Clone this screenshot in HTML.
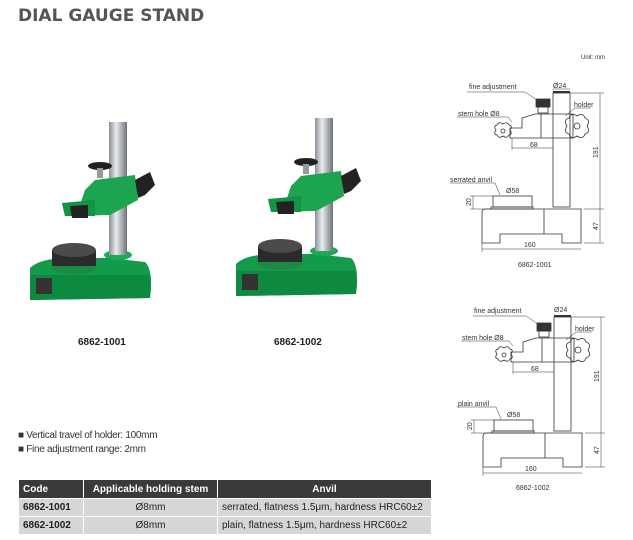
<!DOCTYPE html>
<html><head><meta charset="utf-8"><style>
body{margin:0;width:633px;height:540px;background:#fff;position:relative;overflow:hidden;font-family:"Liberation Sans",sans-serif;}
.t{position:absolute;white-space:nowrap}
table{position:absolute;left:18px;top:479px;border-collapse:collapse;font-size:10px;width:414px}
td,th{border:1px solid #fff;padding:0 4px;height:17px}
th{background:#3a3a3a;color:#fff;font-weight:bold;height:18px}
td{background:#d6d6d6;color:#222}
</style></head><body>
<div class="t" style="left:18px;top:6px;font-size:17px;font-weight:bold;color:#555;font-family:'DejaVu Sans',sans-serif;">DIAL GAUGE STAND</div>
<div class="t" style="left:78px;top:337px;font-size:10px;font-weight:bold;color:#222">6862-1001</div>
<div class="t" style="left:274px;top:337px;font-size:10px;font-weight:bold;color:#222">6862-1002</div>
<div class="t" style="left:18px;top:430px;font-size:10px;color:#333;letter-spacing:-0.3px">■ Vertical travel of holder: 100mm</div>
<div class="t" style="left:18px;top:444px;font-size:10px;color:#333;letter-spacing:-0.3px">■ Fine adjustment range: 2mm</div>
<table>
<tr><th style="text-align:left;width:56px">Code</th><th style="width:125px">Applicable holding stem</th><th>Anvil</th></tr>
<tr><td style="font-weight:bold">6862-1001</td><td style="text-align:center">Ø8mm</td><td>serrated, flatness 1.5μm, hardness HRC60±2</td></tr>
<tr><td style="font-weight:bold">6862-1002</td><td style="text-align:center">Ø8mm</td><td>plain, flatness 1.5μm, hardness HRC60±2</td></tr>
</table>
<svg width="633" height="540" style="position:absolute;left:0;top:0" font-family="Liberation Sans, sans-serif">
<defs>
<linearGradient id="col" x1="0" x2="1"><stop offset="0" stop-color="#8a9096"/><stop offset=".4" stop-color="#e8ecef"/><stop offset="1" stop-color="#6c7277"/></linearGradient>
<g id="photo">
<path d="M30 268 Q40 258 70 258 L110 258 L145 262 Q152 268 151 290 L150 298 L30 300 Z" fill="#139a4a"/>
<path d="M30 275 L150 275 L150 298 L30 300Z" fill="#0d8a40"/>
<rect x="36" y="278" width="16" height="16" fill="#333"/>
<ellipse cx="74" cy="268" rx="22" ry="6" fill="#1a8a45"/>
<rect x="52" y="250" width="44" height="16" fill="#2b2b2b"/>
<ellipse cx="74" cy="250" rx="22" ry="7" fill="#4b4b4b"/>
<ellipse cx="118" cy="255" rx="14" ry="5" fill="#1eaa55"/>
<rect x="109" y="122" width="18" height="133" fill="url(#col)"/>
<path d="M80 205 L85 190 L95 180 L135 175 L138 200 L110 215 L65 216 L62 203Z" fill="#1ca451"/>
<path d="M62 203 L95 200 L95 216 L65 216Z" fill="#139344"/>
<ellipse cx="100" cy="166" rx="12" ry="4" fill="#222"/>
<rect x="97" y="168" width="6" height="10" fill="#999"/>
<path d="M135 180 L150 172 L155 185 L145 195 L138 198Z" fill="#222"/>
<path d="M70 206 L88 205 L88 218 L72 218Z" fill="#222"/>
</g>
</defs>
<use href="#photo"/>
<use href="#photo" transform="translate(206,-4)"/>
<text x="581" y="59" font-size="6" fill="#333">Unit: mm</text>
<g id="d1" fill="none" stroke="#333" stroke-width="0.8" font-size="7">
<rect x="553" y="93" width="17" height="114"/>
<path d="M482 212 Q482 209 486 209 L581 209 L581 243 L562 243 L562 234 L500 234 L500 243 L482 243Z"/>
<line x1="544" y1="209" x2="544" y2="234"/>
<rect x="491" y="207" width="42" height="2"/>
<rect x="493" y="196" width="39" height="11"/>
<path d="M522 118 L535 114 L573 114 L573 138 L510 138 L510 128 L522 128Z"/>
<line x1="541" y1="114" x2="541" y2="138"/>
<rect x="536" y="99" width="14" height="8" fill="#333"/>
<rect x="538" y="107" width="10" height="6"/>
<path d="M577 116 q6 -4 8 2 q6 2 2 8 q4 6 -2 8 q-2 6 -8 2 q-6 4 -8 -2 q-6 -2 -2 -8 q-4 -6 2 -8 q2 -6 8 -2Z"/>
<circle cx="577" cy="126" r="3"/>
<path d="M503 124 q4 -3 6 1 q4 1 1 5 q3 4 -1 5 q-2 4 -6 1 q-4 3 -6 -1 q-4 -1 -1 -5 q-3 -4 1 -5 q2 -4 6 -1Z"/>
<circle cx="503" cy="131" r="2"/>
<line x1="553" y1="92" x2="570" y2="92" stroke-width="2"/>
<line x1="553" y1="89" x2="570" y2="89" stroke-width="0.5"/>
<line x1="570" y1="93" x2="604" y2="93" stroke-width="0.5"/><line x1="600" y1="93" x2="600" y2="243" stroke-width="0.5"/>
<line x1="584" y1="209" x2="604" y2="209" stroke-width="0.5"/><line x1="584" y1="243" x2="604" y2="243" stroke-width="0.5"/>
<line x1="482" y1="243" x2="482" y2="252" stroke-width="0.5"/><line x1="482" y1="249" x2="581" y2="249" stroke-width="0.5"/>
<line x1="512" y1="148" x2="553" y2="148" stroke-width="0.5"/><line x1="512" y1="138" x2="512" y2="150" stroke-width="0.5"/>
<line x1="470" y1="196" x2="493" y2="196" stroke-width="0.5"/><line x1="470" y1="209" x2="493" y2="209" stroke-width="0.5"/><line x1="473" y1="196" x2="473" y2="209" stroke-width="0.5"/>
<path d="M467 92 L525 92 L537 100 M457 117 L508 117 L512 122 M591 108 L575 108 L565 116 M450 183 L495 183 L500 195" stroke-width="0.5"/>
<g fill="#333" stroke="none">
<text x="469" y="89">fine adjustment</text><text x="553" y="88">Ø24</text><text x="574" y="107">holder</text>
<text x="458" y="116">stem hole Ø8</text><text x="530" y="147">68</text>
<text x="450" y="182">serrated anvil</text><text x="506" y="193">Ø58</text>
<text x="524" y="247">160</text><text x="518" y="267" font-size="7">6862-1001</text>
<text transform="translate(598,158) rotate(-90)">191</text><text transform="translate(598,230) rotate(-90)">47</text><text transform="translate(471,206) rotate(-90)">20</text>
</g>
</g>
<g fill="none" stroke="#333" stroke-width="0.8" font-size="7" transform="translate(1,224)">
<rect x="553" y="93" width="17" height="114"/>
<path d="M482 212 Q482 209 486 209 L581 209 L581 243 L562 243 L562 234 L500 234 L500 243 L482 243Z"/>
<line x1="544" y1="209" x2="544" y2="234"/>
<rect x="491" y="207" width="42" height="2"/>
<rect x="493" y="196" width="39" height="11"/>
<path d="M522 118 L535 114 L573 114 L573 138 L510 138 L510 128 L522 128Z"/>
<line x1="541" y1="114" x2="541" y2="138"/>
<rect x="536" y="99" width="14" height="8" fill="#333"/>
<rect x="538" y="107" width="10" height="6"/>
<path d="M577 116 q6 -4 8 2 q6 2 2 8 q4 6 -2 8 q-2 6 -8 2 q-6 4 -8 -2 q-6 -2 -2 -8 q-4 -6 2 -8 q2 -6 8 -2Z"/>
<circle cx="577" cy="126" r="3"/>
<path d="M503 124 q4 -3 6 1 q4 1 1 5 q3 4 -1 5 q-2 4 -6 1 q-4 3 -6 -1 q-4 -1 -1 -5 q-3 -4 1 -5 q2 -4 6 -1Z"/>
<circle cx="503" cy="131" r="2"/>
<line x1="553" y1="92" x2="570" y2="92" stroke-width="2"/>
<line x1="570" y1="93" x2="604" y2="93" stroke-width="0.5"/><line x1="600" y1="93" x2="600" y2="243" stroke-width="0.5"/>
<line x1="584" y1="209" x2="604" y2="209" stroke-width="0.5"/><line x1="584" y1="243" x2="604" y2="243" stroke-width="0.5"/>
<line x1="482" y1="243" x2="482" y2="252" stroke-width="0.5"/><line x1="482" y1="249" x2="581" y2="249" stroke-width="0.5"/>
<line x1="512" y1="148" x2="553" y2="148" stroke-width="0.5"/><line x1="512" y1="138" x2="512" y2="150" stroke-width="0.5"/>
<line x1="470" y1="196" x2="493" y2="196" stroke-width="0.5"/><line x1="470" y1="209" x2="493" y2="209" stroke-width="0.5"/><line x1="473" y1="196" x2="473" y2="209" stroke-width="0.5"/>
<path d="M472 92 L525 92 L537 100 M460 117 L508 117 L512 122 M591 108 L575 108 L565 116 M456 183 L495 183 L500 195" stroke-width="0.5"/>
<g fill="#333" stroke="none">
<text x="473" y="89">fine adjustment</text><text x="553" y="88">Ø24</text><text x="574" y="107">holder</text>
<text x="461" y="116">stem hole Ø8</text><text x="530" y="147">68</text>
<text x="457" y="182">plain anvil</text><text x="506" y="193">Ø58</text>
<text x="524" y="247">160</text><text x="515" y="266" font-size="7">6862-1002</text>
<text transform="translate(598,158) rotate(-90)">191</text><text transform="translate(598,230) rotate(-90)">47</text><text transform="translate(471,206) rotate(-90)">20</text>
</g>
</g>
</svg>
</body></html>
